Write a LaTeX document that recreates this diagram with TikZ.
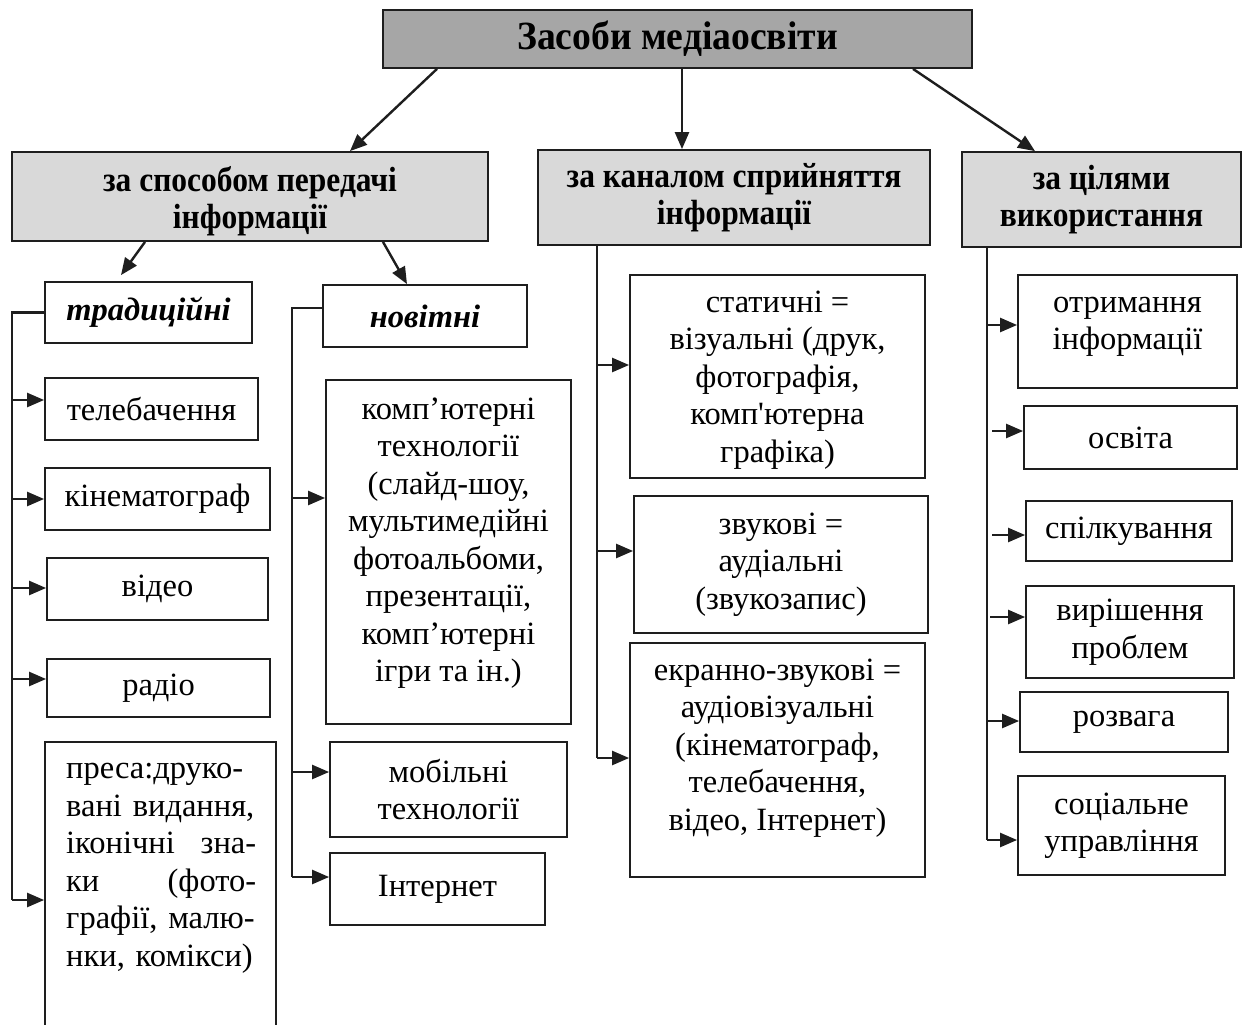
\documentclass[tikz,border=0pt]{standalone}
\usepackage{fontspec}
\setmainfont{Liberation Serif}
\newfontfamily\hdfont{Liberation Serif}[FakeStretch=0.9]
\newfontfamily\ttlfont{Liberation Serif}[FakeStretch=0.94]
\usetikzlibrary{arrows.meta,calc}
\newcommand\lfnt{\fontsize{32.5}{37.5}\selectfont}
\newcommand\hfnt{\hdfont\bfseries\fontsize{35}{37}\selectfont}
\newcommand\tfnt{\ttlfont\bfseries\fontsize{40}{44}\selectfont}
\definecolor{topgray}{RGB}{166,166,166}
\definecolor{hdgray}{RGB}{217,217,217}
\definecolor{lncol}{RGB}{30,30,30}
\begin{document}
\begin{tikzpicture}[x=1pt,y=-1pt,
  box/.style={draw=lncol,line width=1.8pt,rectangle,inner sep=0pt,align=center,font=\lfnt},
  hbox/.style={box,fill=hdgray,font=\hfnt},
  tbox/.style={box,fill=topgray,font=\tfnt},
  txt/.style={inner sep=0pt,align=center,font=\lfnt},
  ln/.style={line width=2.4pt,draw=lncol},
  arr/.style={ln,-{Triangle[length=17pt,width=14pt]}}]
\useasboundingbox (0,0) rectangle (1248,1025);
\fill[white] (0,0) rectangle (1248,1025);

% top and headers
\node[tbox,minimum width=589pt,minimum height=58pt] (top) at (677.5,39) {Засоби медіаосвіти};
\node[hbox,minimum width=476pt,minimum height=89pt] (H1) at (250,196.5) {};
\node[inner sep=0pt,align=center,font=\hfnt] (H1T) at (250,201) {за способом передачі\\інформації};
\node[hbox,minimum width=392pt,minimum height=95pt] (H2) at (734,197.5) {за каналом сприйняття\\інформації};
\node[hbox,minimum width=279pt,minimum height=95pt] (H3) at (1101.5,199.5) {за цілями\\використання};

% traditional column
\node[box,minimum width=207pt,minimum height=61pt,font=\lfnt\bfseries\itshape] (trad) at (148.5,312.5) {традиційні};
\node[box,minimum width=213pt,minimum height=62pt] (tele) at (151.5,409) {телебачення};
\node[box,minimum width=225pt,minimum height=62pt] (kino) at (157.5,499) {кінематограф};
\node[box,minimum width=221pt,minimum height=62pt] (video) at (157.5,589) {відео};
\node[box,minimum width=223pt,minimum height=58pt] (radio) at (158.5,688) {радіо};
\node[box,minimum width=231pt,minimum height=298pt] (press) at (160.5,891) {};
\node[txt,align=left,text width=190pt,anchor=north west] (pressT) at (66,763) {%
преса:друко-\\
вані видання,\\
іконічні\hfill зна-\\
ки\hfill (фото-\\
графії, малю-\\
нки, комікси)};

% new column
\node[box,minimum width=204pt,minimum height=62pt,font=\lfnt\bfseries\itshape] (novit) at (425,316) {новітні};
\node[box,minimum width=245pt,minimum height=344pt] (comp) at (448.5,552) {};
\node[txt] (compT) at (448.5,543) {комп’ютерні\\технології\\(слайд-шоу,\\мультимедійні\\фотоальбоми,\\презентації,\\комп’ютерні\\ігри та ін.)};
\node[box,minimum width=237pt,minimum height=95pt] (mob) at (448.5,789.5) {мобільні\\технології};
\node[box,minimum width=215pt,minimum height=72pt] (inet) at (437.5,889) {Інтернет};

% channel column
\node[box,minimum width=295pt,minimum height=203pt] (stat) at (777.5,376.5) {};
\node[txt] (statT) at (777.5,380) {статичні =\\візуальні (друк,\\фотографія,\\комп\textquotesingle ютерна\\графіка)};
\node[box,minimum width=294pt,minimum height=137pt] (zvuk) at (781,564.5) {звукові =\\аудіальні\\(звукозапис)};
\node[box,minimum width=295pt,minimum height=234pt] (ekran) at (777.5,760) {};
\node[txt] (ekranT) at (777.5,748) {екранно-звукові =\\аудіовізуальні\\(кінематограф,\\телебачення,\\відео, Інтернет)};

% purpose column
\node[box,minimum width=219pt,minimum height=113pt] (otrym) at (1127.5,331.5) {};
\node[txt] (otrymT) at (1127.5,327) {отримання\\інформації};
\node[box,minimum width=213pt,minimum height=63pt] (osvita) at (1130.5,437.5) {освіта};
\node[box,minimum width=206pt,minimum height=60pt] (spilk) at (1129,531) {спілкування};
\node[box,minimum width=208pt,minimum height=92pt] (vyrish) at (1130,632) {вирішення\\проблем};
\node[box,minimum width=208pt,minimum height=60pt] (rozv) at (1124,722) {розвага};
\node[box,minimum width=207pt,minimum height=99pt] (soc) at (1121.5,825.5) {соціальне\\управління};

% top arrows
\draw[arr] (top.south -| 437,0) -- (H1.north -| 350,0);
\draw[arr] (top.south -| 682,0) -- (H2.north -| 682,0);
\draw[arr] (top.south -| 913,0) -- (H3.north -| 1035,0);
\draw[arr] (H1.south -| 145,0) -- ($(trad.north -| 121,0)+(0,-6)$);
\draw[arr] (H1.south -| 383,0) -- (novit.north -| 407,0);

% traditional trunk
\coordinate (tB) at (12,900);
\draw[ln] (trad.west) -| (tB);
\coordinate (t1) at (12,400);
\coordinate (t2) at (12,499);
\coordinate (t3) at (12,588);
\coordinate (t4) at (12,679);
\draw[arr] (t1) -- (t1 -| tele.west);
\draw[arr] (t2) -- (t2 -| kino.west);
\draw[arr] (t3) -- (t3 -| video.west);
\draw[arr] (t4) -- (t4 -| radio.west);
\draw[arr] (tB) -- (tB -| press.west);

% new trunk
\coordinate (nT) at (292,308);
\coordinate (nB) at (292,877);
\draw[ln] (nT -| novit.west) -- (nT) -- (nB);
\coordinate (n1) at (292,498);
\coordinate (n2) at (292,772);
\draw[arr] (n1) -- (n1 -| comp.west);
\draw[arr] (n2) -- (n2 -| mob.west);
\draw[arr] (nB) -- (nB -| inet.west);

% channel trunk
\coordinate (cB) at (597,758);
\draw[ln] (H2.south -| cB) -- (cB);
\coordinate (c1) at (597,365);
\coordinate (c2) at (597,551);
\draw[arr] (c1) -- (c1 -| stat.west);
\draw[arr] (c2) -- (c2 -| zvuk.west);
\draw[arr] (cB) -- (cB -| ekran.west);

% purpose trunk
\coordinate (pB) at (987,840);
\draw[ln] (H3.south -| pB) -- (pB);
\coordinate (p1) at (987,325);
\coordinate (p2) at (992,431);
\coordinate (p3) at (992,535);
\coordinate (p4) at (990,617);
\coordinate (p5) at (987,721);
\draw[arr] (p1) -- (p1 -| otrym.west);
\draw[arr] (p2) -- (p2 -| osvita.west);
\draw[arr] (p3) -- (p3 -| spilk.west);
\draw[arr] (p4) -- (p4 -| vyrish.west);
\draw[arr] (p5) -- (p5 -| rozv.west);
\draw[arr] (pB) -- (pB -| soc.west);
\end{tikzpicture}
\end{document}
